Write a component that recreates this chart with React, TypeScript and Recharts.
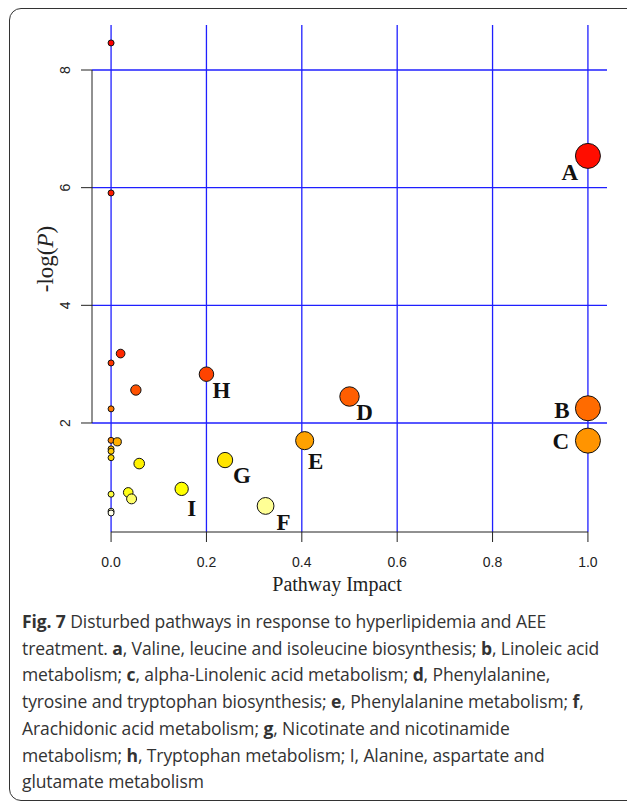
import React from "react";
import {
  ScatterChart,
  Scatter,
  XAxis,
  YAxis,
  CartesianGrid,
  ReferenceLine,
} from "recharts";

// pathway impact (x) and -log(p) (y) for every pathway, sorted by p
const PATHWAY_IMPACT = [
  0, 1.0, 0, 0.02, 0, 0.2, 0.052, 0.5, 1.0, 0, 0, 1.0, 0.406, 0.013, 0, 0, 0,
  0.239, 0.059, 0.148, 0.036, 0, 0.043, 0.324, 0, 0,
];
const NEG_LOG_P = [
  8.46, 6.54, 5.91, 3.18, 3.02, 2.83, 2.56, 2.45, 2.25, 2.24, 1.705, 1.7, 1.7,
  1.68, 1.56, 1.52, 1.41, 1.37, 1.31, 0.88, 0.82, 0.79, 0.71, 0.59, 0.5, 0.47,
];
const POINT_LABELS = [
  "", "A", "", "", "", "H", "", "D", "B", "", "", "C", "E", "", "", "", "",
  "G", "", "I", "", "", "", "F", "", "",
];

const X_TICKS = [0, 0.2, 0.4, 0.6, 0.8, 1.0];
const Y_TICKS = [2, 4, 6, 8];
const X_DOMAIN = [-0.04, 1.04];
const Y_DOMAIN = [0.147, 8.765];

const CAPTION_LINES = [
  [["Fig. 7", true], [" Disturbed pathways in response to hyperlipidemia and AEE", false]],
  [["treatment. ", false], ["a", true], [", Valine, leucine and isoleucine biosynthesis; ", false], ["b", true], [", Linoleic acid", false]],
  [["metabolism; ", false], ["c", true], [", alpha-Linolenic acid metabolism; ", false], ["d", true], [", Phenylalanine,", false]],
  [["tyrosine and tryptophan biosynthesis; ", false], ["e", true], [", Phenylalanine metabolism; ", false], ["f", true], [",", false]],
  [["Arachidonic acid metabolism; ", false], ["g", true], [", Nicotinate and nicotinamide", false]],
  [["metabolism; ", false], ["h", true], [", Tryptophan metabolism; I, Alanine, aspartate and", false]],
  [["glutamate metabolism", false]],
];

// label placement relative to the circle centre
const LABEL_OFFSET: Record<string, [number, number]> = {
  A: [-18, 16],
  B: [-26, 2],
  C: [-27, 0],
  D: [15, 15],
  E: [11, 20],
  F: [18, 16],
  G: [17, 15],
  H: [15, 16],
  I: [10, 19],
};

// R heat.colors(n), index by rank of p value
function heatColor(rank: number, n: number) {
  const j = Math.floor(n / 4);
  const i = n - j;
  if (rank < i) {
    const g = i > 1 ? Math.round((255 * rank) / (i - 1)) : 0;
    return `rgb(255,${g},0)`;
  }
  const k = rank - i;
  const sHi = 1 - 1 / (2 * j);
  const sLo = 1 / (2 * j);
  const s = j > 1 ? sHi - (k * (sHi - sLo)) / (j - 1) : 0.5;
  return `rgb(255,255,${Math.round(255 * (1 - s))})`;
}

const order = NEG_LOG_P.map((v, i) => i).sort((a, b) => NEG_LOG_P[b] - NEG_LOG_P[a]);
const rankOf: number[] = [];
order.forEach((idx, r) => (rankOf[idx] = r));

const points = PATHWAY_IMPACT.map((impact, i) => ({
  impact,
  logp: NEG_LOG_P[i],
  label: POINT_LABELS[i],
  color: heatColor(rankOf[i], NEG_LOG_P.length),
}));

const radius = (impact: number) => 3 + 9.5 * Math.sqrt(impact);

const Bubble = (props: any) => {
  const { cx, cy, payload } = props;
  return (
    <circle cx={cx} cy={cy} r={radius(payload.impact)} fill={payload.color} stroke="#111" strokeWidth={1} />
  );
};

const BubbleLabel = (props: any) => {
  const { cx, cy, payload } = props;
  if (!payload.label) return <g />;
  const [dx, dy] = LABEL_OFFSET[payload.label] || [14, 16];
  return (
    <text
      x={cx + dx}
      y={cy + dy + 8}
      textAnchor="middle"
      fontFamily="'Liberation Serif', 'Times New Roman', serif"
      fontWeight="bold"
      fontSize={23}
      fill="#111"
    >
      {payload.label}
    </text>
  );
};

const XTick = (props: any) => {
  const { x, y, payload } = props;
  return (
    <text x={x} y={y + 23} textAnchor="middle" fontFamily="'Liberation Sans', Arial, sans-serif" fontSize={14} fill="#222">
      {Number(payload.value).toFixed(1)}
    </text>
  );
};

const YTick = (props: any) => {
  const { x, y, payload } = props;
  const bx = x - 9;
  return (
    <text
      x={bx}
      y={y}
      transform={`rotate(-90, ${bx}, ${y})`}
      textAnchor="middle"
      fontFamily="'Liberation Sans', Arial, sans-serif"
      fontSize={14}
      fill="#222"
    >
      {payload.value}
    </text>
  );
};

export default function App() {
  return (
    <div
      style={{
        position: "absolute",
        left: 0,
        top: 0,
        width: 627,
        height: 801,
        overflow: "hidden",
        background: "#fff",
      }}
    >
      <div
        style={{
          position: "absolute",
          left: 9,
          top: 8,
          width: 680,
          height: 793,
          border: "1.5px solid #333",
          borderRadius: 12,
          boxSizing: "border-box",
        }}
      />
      <div style={{ position: "absolute", left: 0, top: 0 }}>
        <ScatterChart width={627} height={610} margin={{ top: 25, right: 20, bottom: 0, left: 0 }}>
          <CartesianGrid stroke="#1f1fff" strokeWidth={1.3} verticalValues={X_TICKS} horizontalValues={Y_TICKS} />
          <XAxis
            type="number"
            dataKey="impact"
            domain={X_DOMAIN}
            ticks={X_TICKS}
            allowDataOverflow
            height={78}
            axisLine={false}
            tickSize={10}
            tickLine={{ stroke: "#222" }}
            tick={<XTick />}
          />
          <YAxis
            type="number"
            dataKey="logp"
            domain={Y_DOMAIN}
            ticks={Y_TICKS}
            allowDataOverflow
            width={92}
            axisLine={false}
            tickSize={11}
            tickLine={{ stroke: "#222" }}
            tick={<YTick />}
          />
          <ReferenceLine
            segment={[{ x: X_DOMAIN[0], y: 2 }, { x: X_DOMAIN[0], y: 8 }]}
            stroke="#222"
            strokeWidth={1}
            ifOverflow="visible"
          />
          <ReferenceLine
            segment={[{ x: 0, y: Y_DOMAIN[0] }, { x: 1, y: Y_DOMAIN[0] }]}
            stroke="#222"
            strokeWidth={1}
            ifOverflow="visible"
          />
          <Scatter data={points} shape={<Bubble />} isAnimationActive={false} />
          <Scatter data={points} shape={<BubbleLabel />} isAnimationActive={false} />
        </ScatterChart>
      </div>
      <svg width={627} height={801} style={{ position: "absolute", left: 0, top: 0, pointerEvents: "none" }}>
        <text
          x={337}
          y={591}
          textAnchor="middle"
          fontFamily="'Liberation Serif', 'Times New Roman', serif"
          fontSize={20}
          fill="#222"
        >
          Pathway Impact
        </text>
        <text
          x={53}
          y={259}
          transform="rotate(-90, 53, 259)"
          textAnchor="middle"
          fontFamily="'Liberation Serif', 'Times New Roman', serif"
          fontSize={23}
          fill="#222"
        >
          -log(<tspan fontStyle="italic">P</tspan>)
        </text>
        {CAPTION_LINES.map((line, li) => (
          <text
            key={li}
            x={22}
            y={628 + li * 26.7}
            fontFamily="'Open Sans', sans-serif"
            fontSize={17.5}
            letterSpacing={-0.1}
            fill="#333"
          >
            {line.map(([t, b], k) => (
              <tspan key={k} fontWeight={b ? "bold" : "normal"}>
                {t as string}
              </tspan>
            ))}
          </text>
        ))}
      </svg>
    </div>
  );
}
